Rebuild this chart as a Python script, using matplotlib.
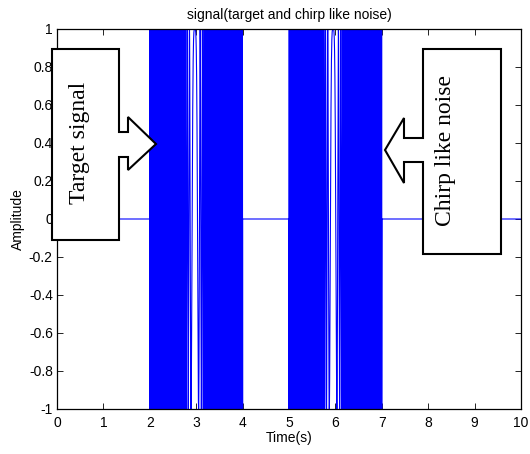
import numpy as np
import matplotlib
matplotlib.use("Agg")
import matplotlib.pyplot as plt
from matplotlib.patches import Polygon

# ── Signal description ──────────────────────────────────────────────────────
T_START, T_END = 0.0, 10.0
FS = 8000                                  # samples per second
burst_names = ["target", "chirp"]
burst_start = [2.0, 5.0]                   # s
burst_end = [4.0, 7.0]                     # s
burst_center = [2.97, 5.95]                # s, where the sweep is slowest
burst_rate = [150.0, 150.0]                # Hz/s sweep rate
burst_amp = [1.0, 1.0]

x_ticks = [0, 1, 2, 3, 4, 5, 6, 7, 8, 9, 10]
y_ticks = [-1, -0.8, -0.6, -0.4, -0.2, 0, 0.2, 0.4, 0.6, 0.8, 1]
y_tick_labels = ["-1", "-0.8", "-0.6", "-0.4", "-0.2", "0",
                 "0.2", "0.4", "0.6", "0.8", "1"]

t = np.arange(T_START, T_END, 1.0 / FS)
sig = np.zeros_like(t)
for t0, t1, tc, k, a in zip(burst_start, burst_end, burst_center, burst_rate, burst_amp):
    m = (t >= t0) & (t <= t1)
    sig[m] = a * np.cos(np.pi * k * (t[m] - tc) ** 2)

W, H, DPI = 530, 454, 100
plt.rcParams.update({
    "font.family": "Liberation Sans",
    "font.size": 10,
    "xtick.direction": "in",
    "ytick.direction": "in",
    "xtick.top": True,
    "ytick.right": True,
})

fig = plt.figure(figsize=(W / DPI, H / DPI), dpi=DPI)
# axes box in pixels: left 57, right 521, top 29, bottom 409
ax = fig.add_axes([57 / W, 1 - 409 / H, (521 - 57) / W, (409 - 29) / H])
ax.plot(t, sig, color="#0000FF", lw=0.8)
ax.set_xlim(T_START, T_END)
ax.set_ylim(-1, 1)
ax.set_xticks(x_ticks)
ax.set_xticklabels([str(v) for v in x_ticks])
ax.set_yticks(y_ticks)
ax.set_yticklabels(y_tick_labels)
ax.tick_params(length=4, width=0.6, labelsize=10)
ax.tick_params(axis="x", pad=5)
ax.tick_params(axis="y", pad=3)
for s in ax.spines.values():
    s.set_linewidth(0.9)
ax.set_title("signal(target and chirp like noise)", fontsize=10, pad=7)
ax.set_xlabel("Time(s)", fontsize=10, labelpad=1)
ax.set_ylabel("Amplitude", fontsize=10, labelpad=3)


def px(points):
    return [(x / W, 1 - y / H) for x, y in points]


# ── Callout arrows (pixel outlines) ──────────────────────────────────────────
target_shape = [(52, 49), (119, 49), (119, 132), (128, 132), (128, 117),
                (156, 144), (128, 170), (128, 157), (119, 157), (119, 240),
                (52, 240)]
chirp_shape = [(423, 49), (501, 49), (501, 254), (423, 254), (423, 162),
               (404, 162), (404, 183), (385, 150), (404, 118), (404, 138),
               (423, 138)]
for shape in (target_shape, chirp_shape):
    fig.add_artist(Polygon(px(shape), closed=True, transform=fig.transFigure,
                           facecolor="white", edgecolor="black", lw=1.5,
                           zorder=10))

fig.text(80 / W, 1 - 143 / H, "Target signal", rotation=90, ha="center",
         va="center", family="Liberation Serif", fontsize=17, zorder=11)
fig.text(446 / W, 1 - 150 / H, "Chirp like noise", rotation=90, ha="center",
         va="center", family="Liberation Serif", fontsize=17, zorder=11)

fig.savefig("out.png", dpi=DPI)
